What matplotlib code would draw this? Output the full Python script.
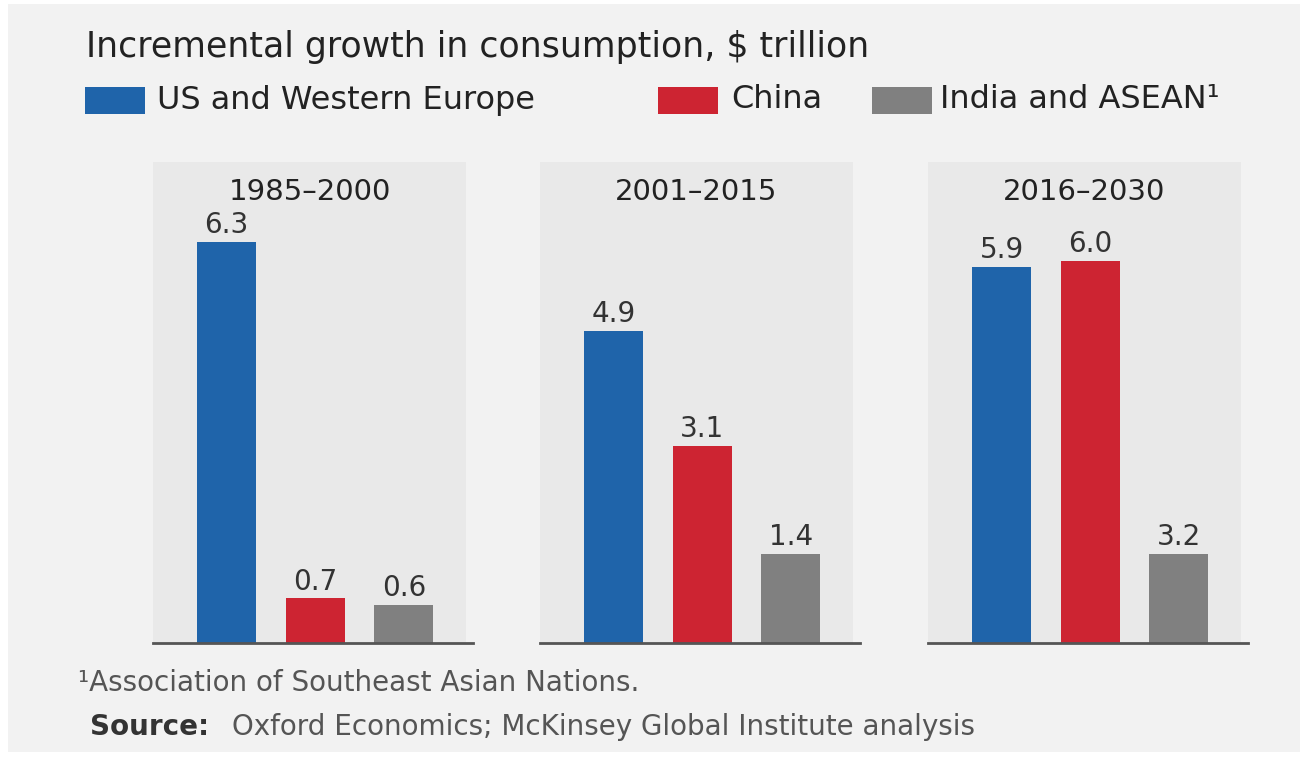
import matplotlib.pyplot as plt
from matplotlib.patches import Rectangle

# data
periods = ["1985–2000", "2001–2015", "2016–2030"]
series = ["US and Western Europe", "China", "India and ASEAN¹"]
us_we = [6.3, 4.9, 5.9]
china = [0.7, 3.1, 6.0]
india_asean = [0.6, 1.4, 3.2]
# in the source picture the 3.2 bar is drawn at the same height as the 1.4 bar
india_asean_drawn = [0.6, 1.4, 1.4]

colors = ["#1f64aa", "#cd2432", "#808080"]
fig_bg = "#f2f2f2"
panel_bg = "#e9e9e9"
txt = "#222222"

W, H = 1309, 757
plt.rcParams['font.family'] = ['DejaVu Sans']
fig = plt.figure(figsize=(W / 100, H / 100), dpi=100)
fig.patch.set_facecolor("white")
fig.patches.append(Rectangle((8 / W, 1 - 752 / H), (1300 - 8) / W, (752 - 4) / H,
                             transform=fig.transFigure, facecolor=fig_bg,
                             edgecolor="none", zorder=-10))


def fx(x):
    return x / W


def fy(y):
    return 1 - y / H


# title + legend
fig.text(fx(86), fy(47), "Incremental growth in consumption, $ trillion",
         fontsize=25, color=txt, va="center", ha="left")
leg_box_x = [85, 658, 872]
leg_txt_x = [157, 731, 940]
for i in range(3):
    fig.patches.append(Rectangle((fx(leg_box_x[i]), fy(114)), 60 / W, 27 / H,
                                 transform=fig.transFigure, facecolor=colors[i],
                                 edgecolor="none"))
    fig.text(fx(leg_txt_x[i]), fy(100), series[i], fontsize=23, color=txt,
             va="center", ha="left")

panel_left = [153, 540, 928]
panel_w = 313
top, base = 162, 643
all_vals = list(zip(us_we, china, india_asean))
all_drawn = list(zip(us_we, china, india_asean_drawn))

for p in range(3):
    ax = fig.add_axes([fx(panel_left[p]), fy(base), panel_w / W, (base - top) / H])
    ax.set_facecolor(panel_bg)
    xs = [0, 1, 2]
    ax.bar(xs, all_drawn[p], width=0.665, color=colors, zorder=2)
    for x, h, v in zip(xs, all_drawn[p], all_vals[p]):
        ax.annotate(f"{v:.1f}", (x, h), xytext=(0, 2), textcoords="offset points",
                    ha="center", va="bottom", fontsize=20, color="#333333")
    ax.set_xlim(-0.83, 2.7)
    ax.set_ylim(0, 7.55)
    ax.text(0.5, 7.08, periods[p], transform=ax.get_yaxis_transform(),
            ha="center", va="center", fontsize=21, color=txt)
    ax.plot([0, 1.022], [0, 0], transform=ax.transAxes, color="#555555",
            lw=2, clip_on=False, zorder=3)
    for s in ax.spines.values():
        s.set_visible(False)
    ax.set_xticks([])
    ax.set_yticks([])

fig.text(fx(78), fy(683), "¹Association of Southeast Asian Nations.",
         fontsize=20, color="#555555", va="center", ha="left")
fig.text(fx(90), fy(727), "Source:", fontsize=20, color="#333333",
         fontweight="bold", va="center", ha="left")
fig.text(fx(232), fy(727), "Oxford Economics; McKinsey Global Institute analysis",
         fontsize=20, color="#555555", va="center", ha="left")

fig.savefig("out.png", dpi=100, facecolor=fig.get_facecolor())
